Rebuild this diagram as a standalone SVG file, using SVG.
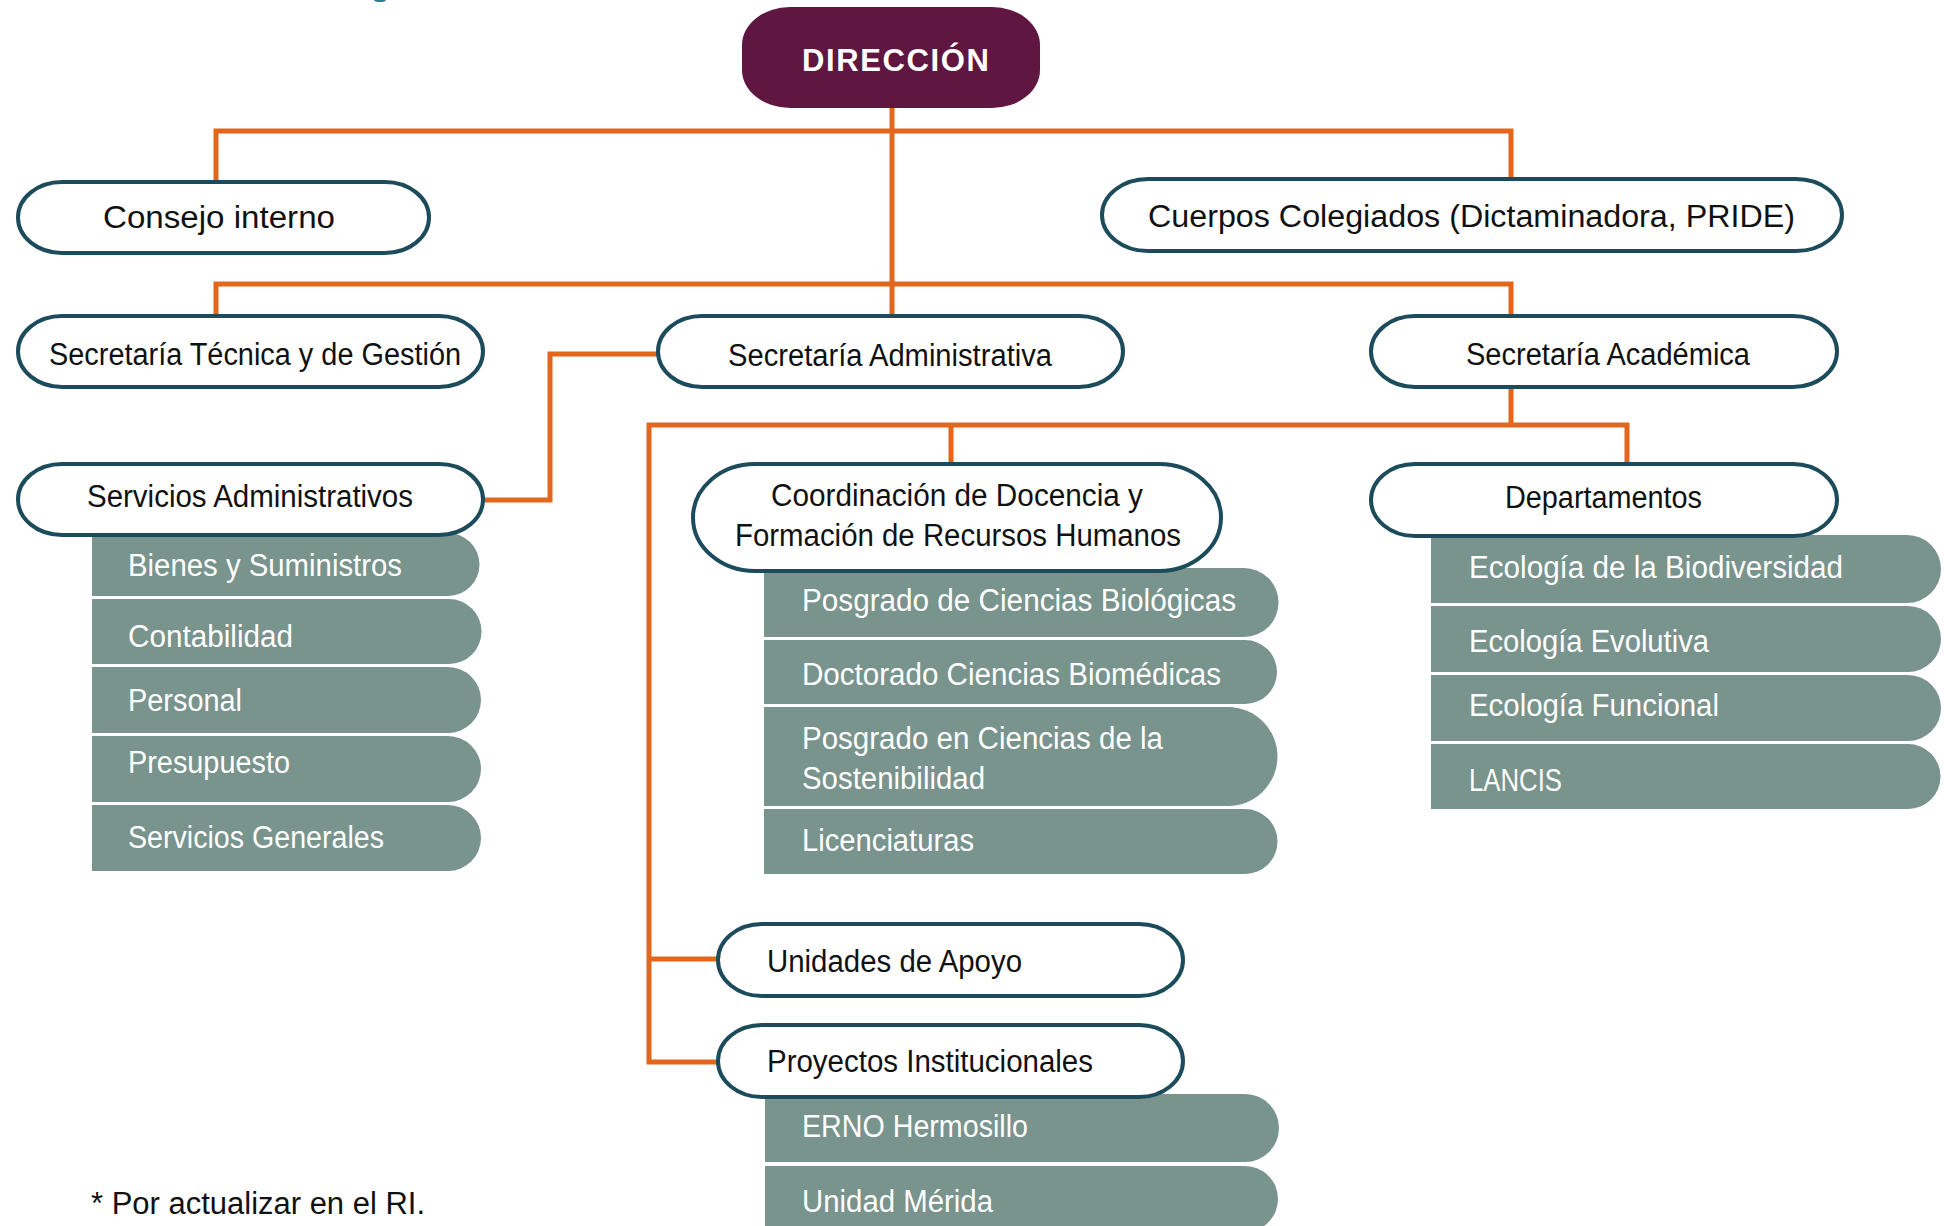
<svg xmlns="http://www.w3.org/2000/svg" width="1944" height="1226" viewBox="0 0 1944 1226">
  <style>
    .pill { fill: #ffffff; stroke: #1c4b5b; stroke-width: 4; }
    .row { fill: #79938d; }
    .conn { fill: none; stroke: #e2661b; stroke-width: 5; stroke-linejoin: miter; stroke-linecap: butt; }
    .t { font-family: "Liberation Sans", Arial, sans-serif; font-size: 31px; fill: #111111; }
    .w { font-family: "Liberation Sans", Arial, sans-serif; font-size: 31px; fill: #ffffff; }
    .head { font-family: "Liberation Sans", Arial, sans-serif; font-size: 31px; font-weight: bold; fill: #ffffff; }
  </style>
  <rect x="0" y="0" width="1944" height="1226" fill="#ffffff"/>
  <ellipse cx="380" cy="0" rx="6" ry="2" fill="#2a7f8f"/>

  <g id="connectors">
    <path class="conn" d="M892,108 V316"/>
    <path class="conn" d="M216,182 V131 H1511 V179"/>
    <path class="conn" d="M216,316 V284 H1511 V316"/>
    <path class="conn" d="M658,354 H550 V500 H483"/>
    <path class="conn" d="M1511,387 V425"/>
    <path class="conn" d="M720,1062 H649 V425 H1627 V463"/>
    <path class="conn" d="M951,425 V463"/>
    <path class="conn" d="M649,959 H720"/>
  </g>

  <g id="direccion">
    <rect x="742" y="7" width="298" height="101" rx="48" ry="38" fill="#5f1640"/>
    <text class="head" x="802" y="71" textLength="187" lengthAdjust="spacing">DIRECCIÓN</text>
  </g>

  <g id="consejo-interno">
    <rect class="pill" x="18" y="182" width="411" height="71" rx="44" ry="35.5"/>
    <text class="t" x="103" y="228" textLength="232" lengthAdjust="spacingAndGlyphs">Consejo interno</text>
  </g>

  <g id="cuerpos-colegiados">
    <rect class="pill" x="1102" y="179" width="740" height="72" rx="46" ry="36"/>
    <text class="t" x="1148" y="227" textLength="647" lengthAdjust="spacingAndGlyphs">Cuerpos Colegiados (Dictaminadora, PRIDE)</text>
  </g>

  <g id="secretaria-tecnica">
    <rect class="pill" x="18" y="316" width="465" height="71" rx="44" ry="35.5"/>
    <text class="t" x="49" y="365" textLength="412" lengthAdjust="spacingAndGlyphs">Secretaría Técnica y de Gestión</text>
  </g>

  <g id="secretaria-administrativa">
    <rect class="pill" x="658" y="316" width="465" height="71" rx="44" ry="35.5"/>
    <text class="t" x="728" y="366" textLength="324" lengthAdjust="spacingAndGlyphs">Secretaría Administrativa</text>
  </g>

  <g id="secretaria-academica">
    <rect class="pill" x="1371" y="316" width="466" height="71" rx="44" ry="35.5"/>
    <text class="t" x="1466" y="365" textLength="284" lengthAdjust="spacingAndGlyphs">Secretaría Académica</text>
  </g>

  <g id="servicios-administrativos">
    <path class="row" d="M92,533 H448 A31.5,31.5 0 0 1 448,596 H92 Z"/>
    <path class="row" d="M92,599 H449 A32.5,32.5 0 0 1 449,664 H92 Z"/>
    <path class="row" d="M92,667 H448 A33,33 0 0 1 448,733 H92 Z"/>
    <path class="row" d="M92,736 H448 A33,33 0 0 1 448,802 H92 Z"/>
    <path class="row" d="M92,805 H448 A33,33 0 0 1 448,871 H92 Z"/>
    <rect class="pill" x="18" y="464" width="465" height="71" rx="44" ry="35.5"/>
    <text class="t" x="87" y="507" textLength="326" lengthAdjust="spacingAndGlyphs">Servicios Administrativos</text>
    <text class="w" x="128" y="576" textLength="274" lengthAdjust="spacingAndGlyphs">Bienes y Suministros</text>
    <text class="w" x="128" y="647" textLength="165" lengthAdjust="spacingAndGlyphs">Contabilidad</text>
    <text class="w" x="128" y="711" textLength="114" lengthAdjust="spacingAndGlyphs">Personal</text>
    <text class="w" x="128" y="773" textLength="162" lengthAdjust="spacingAndGlyphs">Presupuesto</text>
    <text class="w" x="128" y="848" textLength="256" lengthAdjust="spacingAndGlyphs">Servicios Generales</text>
  </g>

  <g id="coordinacion-docencia">
    <path class="row" d="M764,568 H1244 A33.5,33.5 0 0 1 1244,637 H764 Z"/>
    <path class="row" d="M764,640 H1245 A32,32 0 0 1 1245,704 H764 Z"/>
    <path class="row" d="M764,707 H1228 A49.5,49.5 0 0 1 1228,806 H764 Z"/>
    <path class="row" d="M764,809 H1245 A32.5,32.5 0 0 1 1245,874 H764 Z"/>
    <rect class="pill" x="693" y="464" width="528" height="107" rx="62" ry="53.5"/>
    <text class="t" x="771" y="506" textLength="372" lengthAdjust="spacingAndGlyphs">Coordinación de Docencia y</text>
    <text class="t" x="735" y="546" textLength="446" lengthAdjust="spacingAndGlyphs">Formación de Recursos Humanos</text>
    <text class="w" x="802" y="611" textLength="434" lengthAdjust="spacingAndGlyphs">Posgrado de Ciencias Biológicas</text>
    <text class="w" x="802" y="685" textLength="419" lengthAdjust="spacingAndGlyphs">Doctorado Ciencias Biomédicas</text>
    <text class="w" x="802" y="749" textLength="361" lengthAdjust="spacingAndGlyphs">Posgrado en Ciencias de la</text>
    <text class="w" x="802" y="789" textLength="183" lengthAdjust="spacingAndGlyphs">Sostenibilidad</text>
    <text class="w" x="802" y="851" textLength="172" lengthAdjust="spacingAndGlyphs">Licenciaturas</text>
  </g>

  <g id="departamentos">
    <path class="row" d="M1431,535 H1907 A34,34 0 0 1 1907,603 H1431 Z"/>
    <path class="row" d="M1431,606 H1908 A33,33 0 0 1 1908,672 H1431 Z"/>
    <path class="row" d="M1431,675 H1908 A33,33 0 0 1 1908,741 H1431 Z"/>
    <path class="row" d="M1431,744 H1908 A32.5,32.5 0 0 1 1908,809 H1431 Z"/>
    <rect class="pill" x="1371" y="464" width="466" height="72" rx="44" ry="36"/>
    <text class="t" x="1505" y="508" textLength="197" lengthAdjust="spacingAndGlyphs">Departamentos</text>
    <text class="w" x="1469" y="578" textLength="374" lengthAdjust="spacingAndGlyphs">Ecología de la Biodiversidad</text>
    <text class="w" x="1469" y="652" textLength="240" lengthAdjust="spacingAndGlyphs">Ecología Evolutiva</text>
    <text class="w" x="1469" y="716" textLength="250" lengthAdjust="spacingAndGlyphs">Ecología Funcional</text>
    <text class="w" x="1469" y="791" textLength="93" lengthAdjust="spacingAndGlyphs">LANCIS</text>
  </g>

  <g id="unidades-apoyo">
    <rect class="pill" x="718" y="924" width="465" height="72" rx="44" ry="36"/>
    <text class="t" x="767" y="972" textLength="255" lengthAdjust="spacingAndGlyphs">Unidades de Apoyo</text>
  </g>

  <g id="proyectos-institucionales">
    <path class="row" d="M765,1094 H1245 A34,34 0 0 1 1245,1162 H765 Z"/>
    <path class="row" d="M765,1166 H1245 A33,33 0 0 1 1245,1232 H765 Z"/>
    <rect class="pill" x="718" y="1025" width="465" height="72" rx="44" ry="36"/>
    <text class="t" x="767" y="1072" textLength="326" lengthAdjust="spacingAndGlyphs">Proyectos Institucionales</text>
    <text class="w" x="802" y="1137" textLength="226" lengthAdjust="spacingAndGlyphs">ERNO Hermosillo</text>
    <text class="w" x="802" y="1212" textLength="191" lengthAdjust="spacingAndGlyphs">Unidad Mérida</text>
  </g>

  <g id="nota">
    <text class="t" x="91" y="1214" textLength="334" lengthAdjust="spacingAndGlyphs">* Por actualizar en el RI.</text>
  </g>
</svg>
